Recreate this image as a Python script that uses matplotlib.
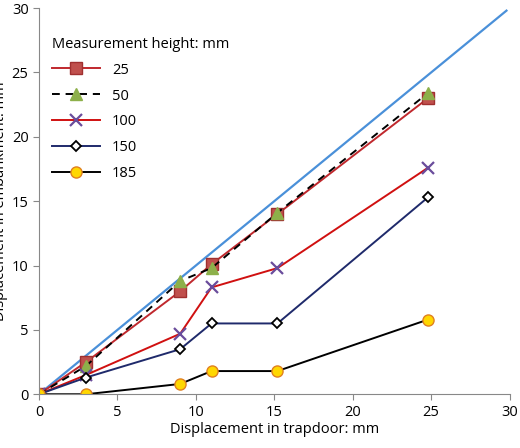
import matplotlib
matplotlib.use("Agg")
import matplotlib.pyplot as plt

x = [0, 3, 9, 11, 15.2, 24.8]
y25 = [0, 2.5, 8.0, 10.1, 14.0, 23.0]
y50 = [0, 2.2, 8.8, 9.8, 14.1, 23.4]
y100 = [0, 1.5, 4.7, 8.3, 9.8, 17.6]
y150 = [0, 1.3, 3.5, 5.5, 5.5, 15.3]
y185 = [0, 0, 0.8, 1.8, 1.8, 5.8]
ref_x = [0, 29.8]

plt.rcParams['font.family'] = ['Open Sans', 'DejaVu Sans']
fig = plt.figure(figsize=(5.2, 4.48), dpi=100)
ax = fig.add_axes([0.075, 0.12, 0.905, 0.862])

ax.plot(ref_x, ref_x, color='#4a90d9', lw=1.6, zorder=1)
ax.plot(x, y25, color='#c0282d', lw=1.4, marker='s', ms=8, mfc='#c0504d', mec='#a03030', label='25')
ax.plot(x, y50, color='black', lw=1.4, ls=(0, (4, 3)), marker='^', ms=9, mfc='#8db04a', mec='#8db04a', label='50')
ax.plot(x, y100, color='#d01010', lw=1.4, marker='x', ms=8, mew=1.6, mec='#6a4c9c', label='100')
ax.plot(x, y150, color='#1f2a6b', lw=1.4, marker='D', ms=5.5, mfc='white', mec='black', mew=1.3, label='150')
ax.plot(x, y185, color='black', lw=1.4, marker='o', ms=8, mfc='#ffd700', mec='#e08020', label='185')

ax.set_xlim(0, 30)
ax.set_ylim(0, 30)
ax.set_xticks(range(0, 31, 5))
ax.set_yticks(range(0, 31, 5))
for s in ['top', 'right']:
    ax.spines[s].set_visible(False)
for s in ['left', 'bottom']:
    ax.spines[s].set_color('#888888')
ax.tick_params(direction='out', length=4, color='#888888', labelsize=10.5)
ax.set_xlabel('Displacement in trapdoor: mm', fontsize=10.5, labelpad=2)
ax.set_ylabel('Displacement in embankment: mm', fontsize=10.5, labelpad=3)
leg = ax.legend(title='Measurement height: mm', loc='upper left', bbox_to_anchor=(0.0, 0.96),
                frameon=False, fontsize=10.5, title_fontsize=10.5, handlelength=3.3,
                labelspacing=0.75, alignment='left')
fig.savefig('out.png', dpi=100)
